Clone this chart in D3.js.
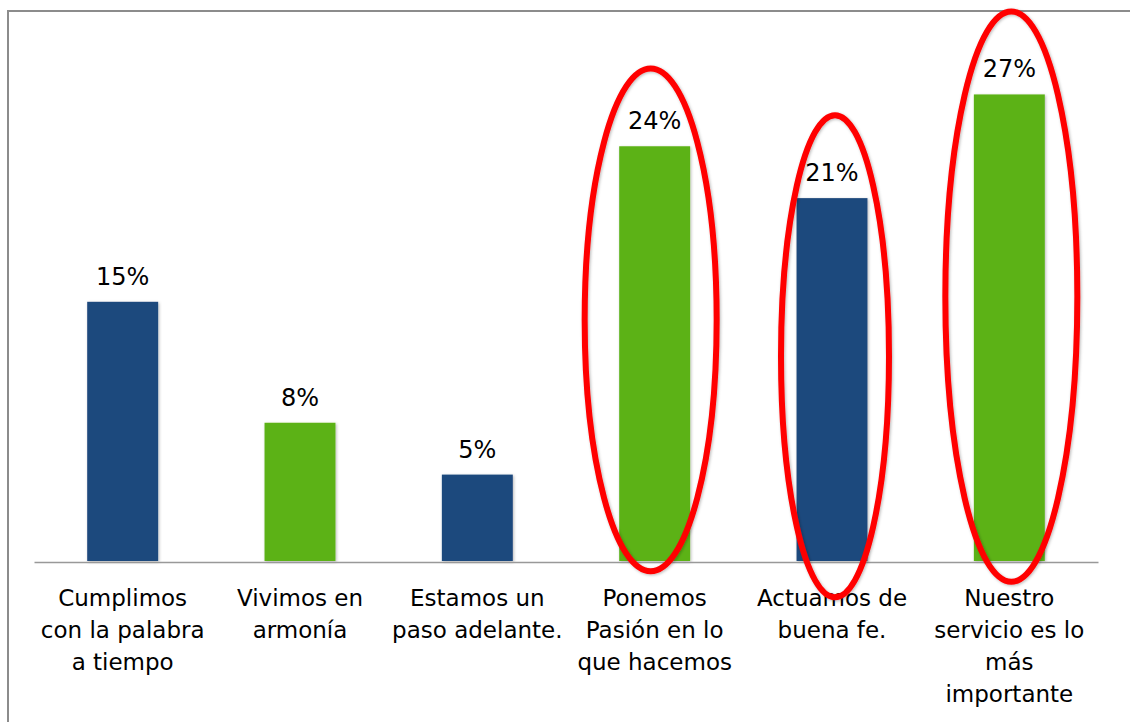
<!DOCTYPE html>
<html>
<head>
<meta charset="utf-8">
<script src="https://cdn.jsdelivr.net/npm/d3@7"></script>
<style>
  html, body { margin: 0; padding: 0; background: #fff; }
  svg { display: block; }
  text { font-family: "DejaVu Sans", Verdana, sans-serif; fill: #000; }
</style>
</head>
<body>
<svg id="chart" width="1130" height="722"></svg>
<script>
// ---- data ----
const categories = [
  "Cumplimos|con la palabra|a tiempo",
  "Vivimos en|armonía",
  "Estamos un|paso adelante.",
  "Ponemos|Pasión en lo|que hacemos",
  "Actuamos de|buena fe.",
  "Nuestro|servicio es lo|más|importante"
];
const values = [15, 8, 5, 24, 21, 27];
const barColors = ["#1F497D", "#5BB216", "#1F497D", "#5BB216", "#1F497D", "#5BB216"];
// highlighted categories (red ellipses): index, top and bottom in value units
const highlightIndex = [3, 4, 5];
const highlightTop = [28.5, 25.8, 31.8];
const highlightBottom = [-0.6, -2.1, -1.2];
const highlightHalfWidth = [66, 54, 66];
const highlightShift = [-4, 3, 2];

// ---- layout ----
const svg = d3.select("#chart");
const baseY = 561;
const x = d3.scaleBand()
  .domain(categories)
  .range([34, 1098])
  .paddingInner(0.6)
  .paddingOuter(0.3);
const y = d3.scaleLinear().domain([0, 30]).range([baseY, baseY - 30 * 17.28]);

const defs = svg.append("defs");
const sh = defs.append("filter").attr("id", "shadow")
  .attr("x", "-20%").attr("y", "-20%").attr("width", "140%").attr("height", "140%");
sh.append("feDropShadow").attr("dx", 1).attr("dy", 1).attr("stdDeviation", 1.6)
  .attr("flood-color", "#000").attr("flood-opacity", 0.28);

// outer border (top + left)
svg.append("path")
  .attr("d", "M8,722 V11 H1130")
  .attr("fill", "none").attr("stroke", "#8c8c8c").attr("stroke-width", 2);

// bars
svg.append("g").selectAll("rect")
  .data(values)
  .join("rect")
  .attr("x", (d, i) => x(categories[i]))
  .attr("width", x.bandwidth())
  .attr("y", d => y(d))
  .attr("height", d => y(0) - y(d))
  .attr("fill", (d, i) => barColors[i])
  .attr("filter", "url(#shadow)");

// axis baseline
const axis = svg.append("g")
  .attr("transform", `translate(0,${baseY + 1})`)
  .call(d3.axisBottom(x).tickSize(0).tickFormat(""));
axis.select(".domain").attr("stroke", "#999").attr("stroke-width", 1.6);

// value labels
svg.append("g").selectAll("text")
  .data(values)
  .join("text")
  .attr("x", (d, i) => x(categories[i]) + x.bandwidth() / 2)
  .attr("y", d => y(d) - 17)
  .attr("text-anchor", "middle")
  .attr("font-size", 24)
  .text(d => d + "%");

// category labels
const lab = svg.append("g").selectAll("text")
  .data(categories)
  .join("text")
  .attr("x", d => x(d) + x.bandwidth() / 2)
  .attr("y", 606)
  .attr("text-anchor", "middle")
  .attr("font-size", 23);
lab.selectAll("tspan")
  .data(d => d.split("|"))
  .join("tspan")
  .attr("x", function () { return d3.select(this.parentNode).attr("x"); })
  .attr("dy", (d, i) => i === 0 ? 0 : 32)
  .text(d => d);

// red highlight ellipses
svg.append("g").selectAll("ellipse")
  .data(highlightIndex)
  .join("ellipse")
  .attr("cx", (d, i) => x(categories[d]) + x.bandwidth() / 2 + highlightShift[i])
  .attr("cy", (d, i) => (y(highlightTop[i]) + y(highlightBottom[i])) / 2)
  .attr("rx", (d, i) => highlightHalfWidth[i])
  .attr("ry", (d, i) => (y(highlightBottom[i]) - y(highlightTop[i])) / 2)
  .attr("fill", "none")
  .attr("stroke", "#FF0000")
  .attr("stroke-width", 6)
  .attr("filter", "url(#shadow)");
</script>
</body>
</html>
